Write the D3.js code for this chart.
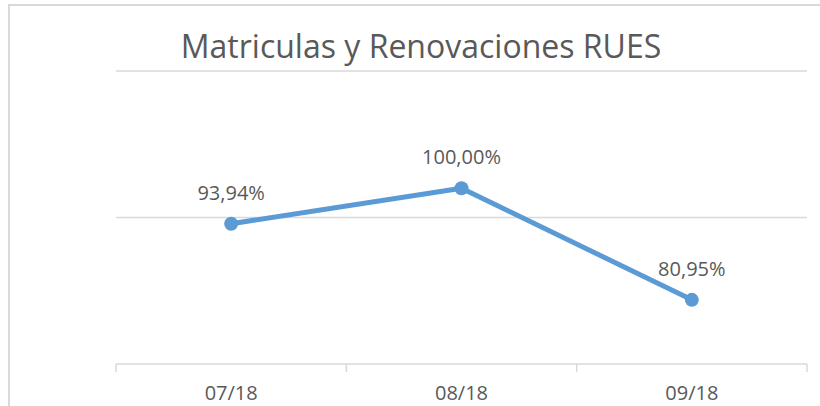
<!DOCTYPE html>
<html lang="es">
<head>
<meta charset="UTF-8">
<title>Matriculas y Renovaciones RUES</title>
<script src="https://d3js.org/d3.v7.min.js"></script>
<style>
    body { margin: 0; background: #fff; }
    text { font-family: "Open Sans", sans-serif; fill: #595959; }
    .grid line { stroke: #d9d9d9; stroke-width: 1.5px; }
    .axis path, .axis line { stroke: #d9d9d9; stroke-width: 1.5px; }
</style>
</head>
<body>
<svg id="chart" width="820" height="406"></svg>
<script>
// datos del grafico
const months = ["07/18", "08/18", "09/18"];
const rates = [0.9394, 1.0000, 0.8095];
const gridTicks = [0.70, 0.95, 1.20];

const svg = d3.select("#chart");
const margin = {top: 71, left: 116, right: 13, bottom: 42};
const W = 820, H = 406;

// marco del grafico
svg.append("rect")
    .attr("x", 9).attr("y", 5)
    .attr("width", 830).attr("height", 420)
    .attr("fill", "none")
    .attr("stroke", "#d9d9d9")
    .attr("stroke-width", 2);

const x = d3.scaleBand()
    .domain(months)
    .range([margin.left, W - margin.right]);

const y = d3.scaleLinear()
    .domain([0.70, 1.20])
    .range([H - margin.bottom, margin.top]);

// lineas de cuadricula
svg.append("g").attr("class", "grid")
    .selectAll("line")
    .data(gridTicks.slice(1))
    .join("line")
    .attr("x1", margin.left).attr("x2", W - margin.right)
    .attr("y1", d => y(d)).attr("y2", d => y(d));

// eje x
const xAxis = svg.append("g").attr("class", "axis")
    .attr("transform", `translate(0,${H - margin.bottom})`)
    .call(d3.axisBottom(x).tickSize(0).tickPadding(22));
xAxis.selectAll("text").attr("font-size", 20).attr("fill", "#595959");

// marcas entre categorias
const edges = months.map(m => x(m)).concat([x(months[months.length - 1]) + x.bandwidth()]);
xAxis.selectAll(".sep")
    .data(edges)
    .join("line")
    .attr("class", "sep")
    .attr("x1", d => d).attr("x2", d => d)
    .attr("y1", 0).attr("y2", 8);
xAxis.select(".domain").attr("d", `M${margin.left},0H${W - margin.right}`);

const cx = d => x(d) + x.bandwidth() / 2;
const pts = months.map((m, i) => ({m, v: rates[i]}));

svg.append("path")
    .datum(pts)
    .attr("fill", "none")
    .attr("stroke", "#5b9bd5")
    .attr("stroke-width", 5)
    .attr("stroke-linejoin", "round")
    .attr("d", d3.line().x(d => cx(d.m)).y(d => y(d.v)));

svg.selectAll(".dot")
    .data(pts)
    .join("circle")
    .attr("class", "dot")
    .attr("cx", d => cx(d.m))
    .attr("cy", d => y(d.v))
    .attr("r", 7)
    .attr("fill", "#5b9bd5");

const fmt = v => (v * 100).toFixed(2).replace(".", ",") + "%";
svg.selectAll(".lbl")
    .data(pts)
    .join("text")
    .attr("class", "lbl")
    .attr("x", d => cx(d.m))
    .attr("y", d => y(d.v) - 24)
    .attr("text-anchor", "middle")
    .attr("font-size", 20)
    .attr("fill", "#404040")
    .text(d => fmt(d.v));

// titulo
svg.append("text")
    .attr("x", 421)
    .attr("y", 58)
    .attr("text-anchor", "middle")
    .attr("font-size", 32)
    .text("Matriculas y Renovaciones RUES");
</script>
</body>
</html>
